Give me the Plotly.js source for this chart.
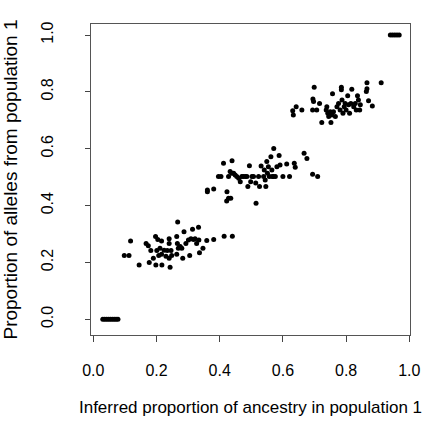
<!DOCTYPE html>
<html>
<head>
<meta charset="utf-8">
<script src="https://cdn.plot.ly/plotly-3.0.1.min.js"></script>
<style>html,body{margin:0;padding:0;background:#fff;}#chart{width:422px;height:434px;}</style>
</head>
<body>
<div id="chart"></div>
<script>
// Inferred proportion of ancestry in population 1 (x) vs proportion of alleles from population 1 (y)
const ancestry = [
  0.030, 0.036, 0.042, 0.048, 0.054, 0.060, 0.066, 0.072, 0.078,
  0.098, 0.113, 0.118, 0.145, 0.167, 0.174, 0.177, 0.182, 0.190, 0.197,
  0.201, 0.198, 0.204, 0.207, 0.211, 0.216, 0.216, 0.217, 0.224, 0.230,
  0.234, 0.240, 0.240, 0.240, 0.243, 0.246, 0.248, 0.264, 0.264, 0.267,
  0.266, 0.269, 0.275, 0.280, 0.283, 0.287, 0.293, 0.301, 0.305, 0.309,
  0.314, 0.317, 0.322, 0.327, 0.333, 0.334, 0.336, 0.347, 0.359, 0.381,
  0.414, 0.440,
  0.361, 0.361, 0.381, 0.422, 0.428, 0.435, 0.423, 0.412, 0.439, 0.396,
  0.404, 0.428, 0.433, 0.438, 0.444, 0.449, 0.454, 0.460, 0.465, 0.470,
  0.475, 0.481, 0.486, 0.489, 0.494, 0.498, 0.502, 0.507, 0.514, 0.515,
  0.523, 0.526, 0.531, 0.539, 0.541, 0.544, 0.546, 0.549, 0.551, 0.554,
  0.557, 0.562, 0.565, 0.566, 0.570, 0.571, 0.576, 0.581, 0.588, 0.591,
  0.600, 0.612, 0.621, 0.636, 0.639, 0.667, 0.676, 0.694, 0.710,
  0.631, 0.633, 0.642, 0.660, 0.694, 0.699, 0.695, 0.697, 0.707, 0.716,
  0.723, 0.737, 0.739, 0.742, 0.745, 0.750, 0.752, 0.755, 0.757, 0.760,
  0.766, 0.771, 0.776, 0.781, 0.785, 0.785, 0.787, 0.790, 0.794, 0.797,
  0.800, 0.805, 0.808, 0.811, 0.815, 0.818, 0.824, 0.829, 0.832, 0.836,
  0.839, 0.843, 0.845, 0.864, 0.866, 0.866, 0.871, 0.883, 0.911,
  0.940, 0.947, 0.954, 0.961, 0.968
];
const alleles = [
  0.000, 0.000, 0.000, 0.000, 0.000, 0.000, 0.000, 0.000, 0.000,
  0.224, 0.224, 0.275, 0.191, 0.267, 0.259, 0.200, 0.242, 0.215, 0.291,
  0.242, 0.191, 0.281, 0.224, 0.250, 0.229, 0.275, 0.191, 0.243, 0.222,
  0.242, 0.267, 0.283, 0.215, 0.183, 0.242, 0.224, 0.229, 0.291, 0.342,
  0.267, 0.250, 0.256, 0.250, 0.215, 0.308, 0.267, 0.279, 0.224, 0.283,
  0.317, 0.281, 0.283, 0.267, 0.324, 0.279, 0.234, 0.250, 0.277, 0.281,
  0.292, 0.292,
  0.449, 0.455, 0.458, 0.416, 0.426, 0.426, 0.449, 0.549, 0.558, 0.502,
  0.502, 0.502, 0.520, 0.514, 0.514, 0.508, 0.502, 0.496, 0.484, 0.502,
  0.502, 0.502, 0.502, 0.467, 0.540, 0.484, 0.502, 0.502, 0.479, 0.408,
  0.502, 0.467, 0.539, 0.502, 0.525, 0.490, 0.467, 0.555, 0.514, 0.537,
  0.502, 0.572, 0.525, 0.502, 0.502, 0.601, 0.502, 0.537, 0.576, 0.543,
  0.502, 0.546, 0.502, 0.549, 0.535, 0.584, 0.566, 0.510, 0.502,
  0.734, 0.719, 0.748, 0.736, 0.736, 0.816, 0.775, 0.766, 0.736, 0.759,
  0.692, 0.736, 0.748, 0.725, 0.713, 0.730, 0.692, 0.719, 0.793, 0.730,
  0.713, 0.748, 0.759, 0.736, 0.816, 0.807, 0.771, 0.725, 0.748, 0.759,
  0.736, 0.786, 0.755, 0.725, 0.759, 0.809, 0.748, 0.759, 0.736, 0.786,
  0.771, 0.736, 0.755, 0.801, 0.832, 0.811, 0.769, 0.750, 0.832,
  1.000, 1.000, 1.000, 1.000, 1.000
];
const xTicks = [0.0, 0.2, 0.4, 0.6, 0.8, 1.0];
const xTickText = ['0.0', '0.2', '0.4', '0.6', '0.8', '1.0'];
const yTicks = [0.0, 0.2, 0.4, 0.6, 0.8, 1.0];
const yTickText = ['0.0', '0.2', '0.4', '0.6', '0.8', '1.0'];

const font = 'Liberation Sans, Arial, Helvetica, sans-serif';
const trace = {
  x: ancestry, y: alleles, type: 'scatter', mode: 'markers',
  marker: {color: '#000', size: 5, line: {width: 0}},
  hoverinfo: 'x+y', showlegend: false
};
const layout = {
  width: 422, height: 434,
  margin: {l: 91, r: 12, t: 24, b: 99},
  paper_bgcolor: '#fff', plot_bgcolor: '#fff',
  font: {family: font, color: '#000', size: 15},
  xaxis: {
    range: [-0.0073, 1.0022], tickvals: xTicks, ticktext: xTickText,
    showgrid: false, zeroline: false, showline: true, mirror: true,
    linecolor: '#555', linewidth: 1, ticks: 'outside', ticklen: 6, tickcolor: '#444',
    tickfont: {size: 16, family: font}, ticklabelstandoff: 15,
    title: {text: 'Inferred proportion of ancestry in population 1', font: {size: 17, family: font}, standoff: 22}
  },
  yaxis: {
    range: [-0.0552, 1.0387], tickvals: yTicks, ticktext: yTickText,
    showgrid: false, zeroline: false, showline: true, mirror: true,
    linecolor: '#555', linewidth: 1, ticks: 'outside', ticklen: 5, tickcolor: '#444',
    tickangle: -90, tickfont: {size: 16, family: font}, ticklabelstandoff: 26,
    title: {text: 'Proportion of alleles from population 1', font: {size: 19, family: font}, standoff: 17}
  }
};
Plotly.newPlot('chart', [trace], layout, {staticPlot: true, displayModeBar: false});
</script>
</body>
</html>
